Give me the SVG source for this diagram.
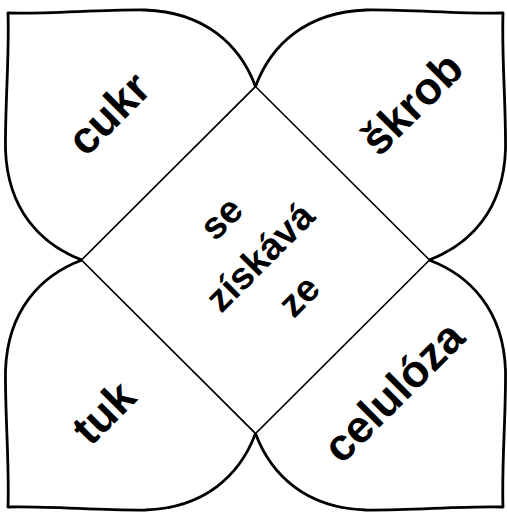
<svg xmlns="http://www.w3.org/2000/svg" width="507" height="514" viewBox="0 0 507 514">
<style>
.petal{fill:#fff;stroke:#000;stroke-width:2.8;stroke-linejoin:round;stroke-linecap:round}
.diamond{fill:#fff;stroke:#000;stroke-width:1.6}
text{font-family:"Liberation Sans",Arial,sans-serif;font-weight:bold;font-size:38px;fill:#000;text-anchor:middle}
text.big{font-size:45px}
</style>
<defs>
<path id="petalShape" class="petal" d="M 0 -173.5 C -15.5 -215 -50.5 -248 -110.5 -250 C -155.5 -250.5 -205.5 -246 -247.5 -247 C -246 -205.5 -250.5 -155.5 -250 -110.5 C -248 -50.5 -215 -15.5 -173.5 0"/>
</defs>
<rect width="507" height="514" fill="#fff"/>
<g id="petal-cukr">
<use href="#petalShape" transform="translate(255.5,260)"/>
<text class="big" transform="translate(111,116) rotate(-45)" y="12">cukr</text>
</g>
<g id="petal-skrob">
<use href="#petalShape" transform="translate(255.5,260) scale(-1,1)"/>
<text class="big" transform="translate(414,106) rotate(-45)" y="12">škrob</text>
</g>
<g id="petal-tuk">
<use href="#petalShape" transform="translate(255.5,260) scale(1,-1)"/>
<text class="big" transform="translate(106,415) rotate(-45)" y="12">tuk</text>
</g>
<g id="petal-celuloza">
<use href="#petalShape" transform="translate(255.5,260) scale(-1,-1)"/>
<text class="big" transform="translate(396,394) rotate(-45)" y="12">celulóza</text>
</g>
<g id="center">
<polygon class="diamond" points="255.5,86.5 429.5,260 255.5,433.5 81.5,260"/>
<g transform="translate(262,259) rotate(-45)">
<text y="-45">se</text>
<text y="10">získává</text>
<text y="65">ze</text>
</g>
</g>
</svg>
